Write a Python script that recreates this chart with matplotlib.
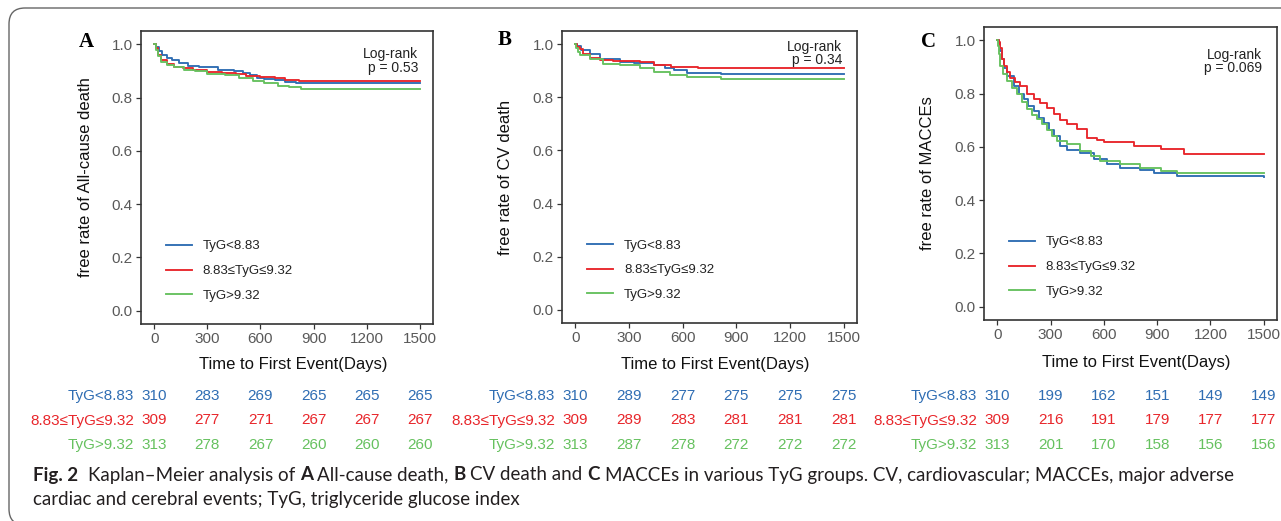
import matplotlib
matplotlib.use("Agg")
import matplotlib.pyplot as plt
from matplotlib.patches import FancyBboxPatch
from matplotlib.transforms import IdentityTransform

W, H = 1281, 521

groups = ["TyG<8.83", "8.83≤TyG≤9.32", "TyG>9.32"]
colors = ["#2F6DB3", "#E8262B", "#66C15F"]
times_ticks = [0, 300, 600, 900, 1200, 1500]

# panel A: all-cause death (step points)
a_blue_t = [0, 10, 25, 45, 70, 100, 140, 190, 250, 300, 360, 450, 500, 540, 580, 620, 680, 740, 800, 1500]
a_blue_s = [1.0, 0.99, 0.975, 0.96, 0.95, 0.94, 0.93, 0.92, 0.915, 0.913, 0.905, 0.90, 0.893, 0.885, 0.875, 0.868, 0.865, 0.86, 0.855, 0.855]
a_red_t = [0, 8, 20, 40, 70, 110, 160, 220, 300, 380, 460, 520, 600, 680, 740, 820, 1500]
a_red_s = [1.0, 0.985, 0.96, 0.94, 0.925, 0.915, 0.91, 0.903, 0.896, 0.893, 0.887, 0.882, 0.877, 0.872, 0.866, 0.864, 0.864]
a_green_t = [0, 8, 20, 40, 70, 110, 170, 230, 300, 400, 480, 560, 620, 700, 760, 830, 1500]
a_green_s = [1.0, 0.98, 0.955, 0.935, 0.922, 0.915, 0.905, 0.898, 0.89, 0.885, 0.875, 0.862, 0.853, 0.845, 0.838, 0.831, 0.831]

# panel B: CV death
b_blue_t = [0, 10, 30, 80, 140, 250, 330, 440, 500, 550, 626, 812, 1500]
b_blue_s = [1.0, 0.992, 0.978, 0.965, 0.946, 0.934, 0.93, 0.921, 0.912, 0.902, 0.892, 0.888, 0.888]
b_red_t = [0, 10, 26, 43, 82, 138, 213, 364, 439, 533, 688, 1500]
b_red_s = [1.0, 0.99, 0.984, 0.965, 0.95, 0.942, 0.937, 0.934, 0.921, 0.915, 0.909, 0.909]
b_green_t = [0, 5, 15, 26, 82, 157, 251, 364, 439, 530, 626, 812, 1500]
b_green_s = [1.0, 0.985, 0.971, 0.959, 0.946, 0.927, 0.921, 0.909, 0.896, 0.886, 0.877, 0.869, 0.869]

# panel C: MACCEs
c_blue_t = [0, 7, 15, 26, 40, 54, 92, 120, 148, 175, 205, 235, 261, 290, 318, 355, 393, 468, 543, 618, 693, 806, 881, 1013, 1500]
c_blue_s = [1.0, 0.99, 0.96, 0.928, 0.895, 0.866, 0.828, 0.80, 0.778, 0.755, 0.734, 0.71, 0.69, 0.665, 0.64, 0.603, 0.59, 0.578, 0.553, 0.534, 0.521, 0.515, 0.503, 0.49, 0.487]
c_red_t = [0, 10, 17, 25, 36, 55, 73, 100, 130, 167, 205, 242, 280, 318, 355, 393, 450, 506, 560, 600, 768, 919, 1051, 1500]
c_red_s = [1.0, 0.995, 0.97, 0.93, 0.903, 0.88, 0.86, 0.845, 0.828, 0.797, 0.78, 0.766, 0.745, 0.722, 0.70, 0.684, 0.666, 0.634, 0.625, 0.62, 0.605, 0.593, 0.575, 0.575]
c_green_t = [0, 5, 10, 17, 30, 54, 80, 111, 140, 167, 195, 224, 252, 280, 310, 337, 393, 468, 525, 581, 693, 806, 919, 1013, 1500]
c_green_s = [1.0, 0.98, 0.95, 0.903, 0.875, 0.847, 0.82, 0.797, 0.77, 0.741, 0.72, 0.703, 0.685, 0.665, 0.64, 0.622, 0.609, 0.584, 0.565, 0.547, 0.534, 0.521, 0.509, 0.503, 0.50]

# numbers at risk
a_risk = [[310, 283, 269, 265, 265, 265], [309, 277, 271, 267, 267, 267], [313, 278, 267, 260, 260, 260]]
b_risk = [[310, 289, 277, 275, 275, 275], [309, 289, 283, 281, 281, 281], [313, 287, 278, 272, 272, 272]]
c_risk = [[310, 199, 162, 151, 149, 149], [309, 216, 191, 179, 177, 177], [313, 201, 170, 158, 156, 156]]

panels = [
    dict(letter="A", ylabel="free rate of All-cause death", p="p = 0.53",
         curves=[(a_blue_t, a_blue_s), (a_red_t, a_red_s), (a_green_t, a_green_s)], risk=a_risk,
         box=(141, 433, 31, 324), lab_x=86, letter_y=42, xlab_y=365, lr=(0.949, 0.945)),
    dict(letter="B", ylabel="free rate of CV death", p="p = 0.34",
         curves=[(b_blue_t, b_blue_s), (b_red_t, b_red_s), (b_green_t, b_green_s)], risk=b_risk,
         box=(562, 857, 31, 323), lab_x=505, letter_y=40, xlab_y=365, lr=(0.949, 0.97)),
    dict(letter="C", ylabel="free rate of MACCEs", p="p = 0.069",
         curves=[(c_blue_t, c_blue_s), (c_red_t, c_red_s), (c_green_t, c_green_s)], risk=c_risk,
         box=(984, 1277, 27, 320), lab_x=928, letter_y=42, xlab_y=362, lr=(0.949, 0.93)),
]

plt.rcParams["font.family"] = ["Liberation Sans", "DejaVu Sans"]

fig = plt.figure(figsize=(W / 100, H / 100), dpi=100)


def px_axes(l, r, t, b):
    return fig.add_axes([l / W, 1 - b / H, (r - l) / W, (b - t) / H])


for pn in panels:
    l, r, t, b = pn["box"]
    ax = px_axes(l, r, t, b)
    for (tt, ss), col, name in zip(pn["curves"], colors, groups):
        ax.step(tt, ss, where="post", color=col, lw=1.35, label=name)
    ax.set_xlim(-75, 1575)
    ax.set_ylim(-0.05, 1.05)
    ax.set_xticks(times_ticks)
    ax.set_yticks([0, 0.2, 0.4, 0.6, 0.8, 1.0])
    ax.set_yticklabels(["0.0", "0.2", "0.4", "0.6", "0.8", "1.0"])
    for sp in ax.spines.values():
        sp.set_color("#333333")
        sp.set_linewidth(1.2)
    ax.tick_params(direction="out", length=3.5, width=0.9, color="#333333",
                   labelcolor="#595959", labelsize=11, pad=2.5)
    ax.text(pn["lr"][0], pn["lr"][1], "Log-rank\n" + pn["p"], transform=ax.transAxes,
            ha="right", va="top", fontsize=10, color="#222222", linespacing=0.95)
    leg = ax.legend(loc="lower left", bbox_to_anchor=(0.085, 0.075), frameon=False,
                    fontsize=9.5, handlelength=2.0, handletextpad=0.8, labelspacing=0.95,
                    borderpad=0, borderaxespad=0)
    for txt in leg.get_texts():
        txt.set_color("#222222")

    cy = 1 - ((t + b) / 2) / H
    fig.text(pn["lab_x"] / W, cy, pn["ylabel"], rotation=90, ha="center", va="center",
             fontsize=12, color="#111111")
    fig.text(((l + r) / 2 + 6) / W, 1 - pn["xlab_y"] / H, "Time to First Event(Days)",
             ha="center", va="center", fontsize=12, color="#111111")
    fig.text(pn["lab_x"] / W, 1 - pn["letter_y"] / H, pn["letter"], ha="center", va="center",
             fontsize=15, fontweight="bold", family="Liberation Serif")

    # risk table
    rax = px_axes(l, r, 384, 457)
    rax.set_xlim(-75, 1575)
    rax.set_ylim(0, 3)
    rax.axis("off")
    for i, (name, col, row) in enumerate(zip(groups, colors, pn["risk"])):
        yy = 2.5 - i
        rax.text(-112, yy, name, ha="right", va="center", color=col, fontsize=11, clip_on=False)
        for tk, n in zip(times_ticks, row):
            rax.text(tk, yy, str(n), ha="center", va="center", color=col, fontsize=11, clip_on=False)

# outer frame
frame = FancyBboxPatch((9, -4), 1300, H - 8 + 4, boxstyle="round,pad=0,rounding_size=16",
                       transform=IdentityTransform(), fill=False, edgecolor="#666666", lw=1.0)
fig.patches.append(frame)

# caption with bold runs
renderer = fig.canvas.get_renderer()
cap_font = "Lato"
cap_size = 13.5


def text_width(s, weight):
    tt = fig.text(0, 0, s, fontsize=cap_size, family=cap_font, weight=weight)
    w = tt.get_window_extent(renderer).width
    tt.remove()
    return w


space_w = text_width("a a", "normal") - text_width("aa", "normal")


def draw_runs(x, y, runs):
    for s, weight in runs:
        if s == " ":
            x += space_w
            continue
        tt = fig.text(x / W, 1 - y / H, s, fontsize=cap_size, family=cap_font, weight=weight,
                      va="center", ha="left", color="#231F20")
        x += tt.get_window_extent(renderer).width


line1 = [("Fig. 2", "bold"), (" ", ""), (" ", ""),
         ("Kaplan–Meier analysis of", "normal"), (" ", ""), ("A", "bold"), (" ", ""),
         ("All-cause death,", "normal"), (" ", ""), ("B", "bold"), (" ", ""),
         ("CV death and", "normal"), (" ", ""), ("C", "bold"), (" ", ""),
         ("MACCEs in various TyG groups. CV, cardiovascular; MACCEs, major adverse", "normal")]
line2 = [("cardiac and cerebral events; TyG, triglyceride glucose index", "normal")]
draw_runs(33, 475, line1)
draw_runs(33, 500, line2)

fig.savefig("out.png", dpi=100)
